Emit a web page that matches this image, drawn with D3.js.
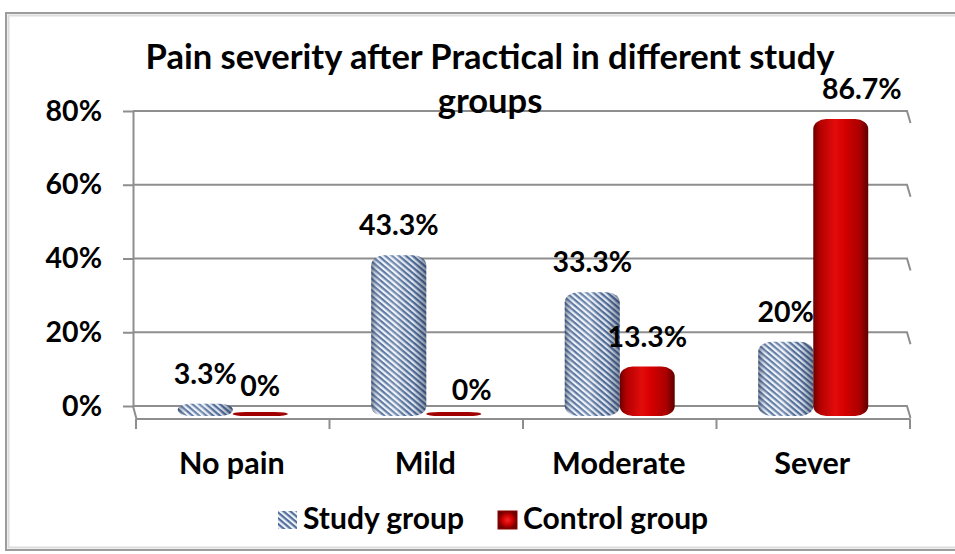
<!DOCTYPE html>
<html><head><meta charset="utf-8">
<script src="https://cdn.jsdelivr.net/npm/d3@7"></script>
<style>
body{margin:0;background:#fff}
svg{display:block}
text{font-family:Lato,"Open Sans",sans-serif;font-weight:700;fill:#000}
</style>
</head><body>
<svg id="chart" width="955" height="554"></svg>
<script>
// ---- data ----
const categories = ["No pain", "Mild", "Moderate", "Sever"];
const seriesNames = ["Study group", "Control group"];
const studyValues = [3.3, 43.3, 33.3, 20];
const controlValues = [0, 0, 13.3, 86.7];
const yTicks = [0, 20, 40, 60, 80];
const titleLines = ["Pain severity after Practical in different study", "groups"];

const seriesValues = [studyValues, controlValues];
const FS_NUM = 28.5, FS_CAT = 30.5, FS_LEG = 30, FS_TITLE = 34.5;
const FONT = "Lato,'Open Sans',sans-serif";

const svg = d3.select("#chart");
const defs = svg.append("defs");

// stripe pattern for study group
const pat = defs.append("pattern").attr("id", "stripes")
  .attr("patternUnits", "userSpaceOnUse").attr("width", 4.4).attr("height", 4.4)
  .attr("patternTransform", "rotate(40)");
pat.append("rect").attr("width", 4.4).attr("height", 4.4).attr("fill", "#eef3fa");
pat.append("rect").attr("width", 4.4).attr("height", 2.2).attr("fill", "#526f9c");

const shade = defs.append("linearGradient").attr("id", "cylShade").attr("x1", 0).attr("x2", 1).attr("y1", 0).attr("y2", 0);
[[0, "#1a2a4a", 0.55], [0.18, "#ffffff", 0.05], [0.45, "#ffffff", 0.22], [0.75, "#1a2a4a", 0.05], [1, "#1a2a4a", 0.5]]
  .forEach(([o, c, a]) => shade.append("stop").attr("offset", o).attr("stop-color", c).attr("stop-opacity", a));

const redG = defs.append("linearGradient").attr("id", "redGrad").attr("x1", 0).attr("x2", 1).attr("y1", 0).attr("y2", 0);
[[0, "#6a0000"], [0.12, "#b30000"], [0.4, "#e20c0c"], [0.55, "#d80000"], [0.85, "#a80000"], [1, "#5e0000"]]
  .forEach(([o, c]) => redG.append("stop").attr("offset", o).attr("stop-color", c));

const legRed = defs.append("radialGradient").attr("id", "legRed");
[[0, "#ff2020"], [0.6, "#c00000"], [1, "#700000"]]
  .forEach(([o, c]) => legRed.append("stop").attr("offset", o).attr("stop-color", c));

// ---- outer border ----
svg.append("rect").attr("x", 6).attr("y", 13).attr("width", 965).attr("height", 537)
  .attr("fill", "#fff").attr("stroke", "#9c9c9c").attr("stroke-width", 2);
svg.append("rect").attr("x", 8.5).attr("y", 15.5).attr("width", 965).attr("height", 532)
  .attr("fill", "none").attr("stroke", "#dcdcdc").attr("stroke-width", 2);

// ---- scales ----
const DX = 3.5, DY = 13;
const x0 = d3.scaleBand().domain(categories).range([136, 910]);
const x1 = d3.scaleBand().domain(seriesNames).range([0, x0.bandwidth()]).paddingInner(0).paddingOuter(0.76);
const yBack = d3.scaleLinear().domain([0, 80]).range([406, 111]);
const yBar = d3.scaleLinear().domain([0, 80]).range([416, 119]).clamp(true);
const xLeft = 133, xRight = 907;

const gridCol = "#8e8e8e";

// gridlines on back wall with right-wall hooks
svg.append("g").selectAll("path").data(yTicks).join("path")
  .attr("d", t => `M${xLeft},${yBack(t)}H${xRight}L${xRight + DX},${yBack(t) + DY - 1}`)
  .attr("fill", "none").attr("stroke", gridCol).attr("stroke-width", 2);

// y axis
const yAxis = svg.append("g").attr("transform", `translate(${xLeft},0)`)
  .call(d3.axisLeft(yBack).tickValues(yTicks).tickFormat(d => d + "%").tickSize(10).tickSizeOuter(0).tickPadding(21));
yAxis.select(".domain").attr("stroke", gridCol).attr("stroke-width", 2);
yAxis.selectAll(".tick line").attr("stroke", gridCol).attr("stroke-width", 2);
yAxis.selectAll(".tick text").attr("font-size", FS_NUM).attr("font-family", FONT).attr("font-weight", 700).attr("fill", "#000");

// floor front edge and side edges
const floorY = yBack(0) + DY;
svg.append("path")
  .attr("d", `M${xLeft},${yBack(0)}L${xLeft + DX},${floorY}H${xRight + DX}`)
  .attr("fill", "none").attr("stroke", gridCol).attr("stroke-width", 2);

// category boundary ticks
const bounds = categories.map(c => x0(c)).concat([x0.range()[1]]);
svg.append("g").selectAll("line").data(bounds).join("line")
  .attr("x1", d => d).attr("x2", d => d).attr("y1", floorY).attr("y2", floorY + 10)
  .attr("stroke", gridCol).attr("stroke-width", 2);

// category labels
const xAxis = svg.append("g").attr("transform", `translate(-1,${floorY})`)
  .call(d3.axisBottom(x0).tickSize(0).tickPadding(33));
xAxis.select(".domain").remove();
xAxis.selectAll(".tick text").attr("font-size", FS_CAT).attr("font-family", FONT).attr("font-weight", 700).attr("fill", "#000");

// ---- bars ----
const barData = [];
seriesNames.forEach((s, si) => categories.forEach((c, ci) => barData.push({ s, si, c, v: seriesValues[si][ci] })));

const bw = x1.bandwidth();
function barX(d) { return x0(d.c) + x1(d.s); }
const bars = svg.append("g").selectAll("g").data(barData).join("g");
bars.each(function (d) {
  const g = d3.select(this);
  const yt = yBar(d.v), yb = yBar(0);
  const h = Math.max(yb - yt, 4);
  const x = barX(d), y = yb - h;
  const ry = Math.min(10, h / 2), rx = Math.min(13, bw / 2);
  if (d.si === 0) {
    g.append("rect").attr("x", x).attr("y", y).attr("width", bw).attr("height", h)
      .attr("rx", rx).attr("ry", ry).attr("fill", "url(#stripes)");
    g.append("rect").attr("x", x).attr("y", y).attr("width", bw).attr("height", h)
      .attr("rx", rx).attr("ry", ry).attr("fill", "url(#cylShade)");
  } else {
    g.append("rect").attr("x", x).attr("y", y).attr("width", bw).attr("height", h)
      .attr("rx", rx).attr("ry", ry).attr("fill", d.v === 0 ? "#a00000" : "url(#redGrad)");
  }
});

// ---- value labels ----
const labelNudge = { "Mild|Control group": [18, 4], "Sever|Control group": [21, 0] };
const nudge = d => labelNudge[d.c + "|" + d.s] || [0, 0];
svg.append("g").selectAll("text").data(barData).join("text")
  .attr("x", d => barX(d) + bw / 2 + nudge(d)[0])
  .attr("y", d => yBar(d.v) - 20 + nudge(d)[1])
  .attr("text-anchor", "middle").attr("font-size", FS_NUM)
  .text(d => d.v + "%");

// ---- title ----
svg.append("g").selectAll("text").data(titleLines).join("text")
  .attr("x", 490).attr("y", (d, i) => 69 + i * 44)
  .attr("text-anchor", "middle").attr("font-size", FS_TITLE)
  .text(d => d);

// ---- legend ----
const legendX = [278, 498];
const leg = svg.append("g").selectAll("g").data(seriesNames).join("g")
  .attr("transform", (d, i) => `translate(${legendX[i]},511)`);
leg.append("rect").attr("width", 19).attr("height", 18)
  .attr("fill", (d, i) => i === 0 ? "url(#stripes)" : "url(#legRed)")
  .attr("stroke", (d, i) => i === 0 ? "none" : "#8a0000").attr("stroke-width", 1);
leg.append("text").attr("x", 25).attr("y", 17.5).attr("font-size", FS_LEG).text(d => d);
</script>
</body></html>
